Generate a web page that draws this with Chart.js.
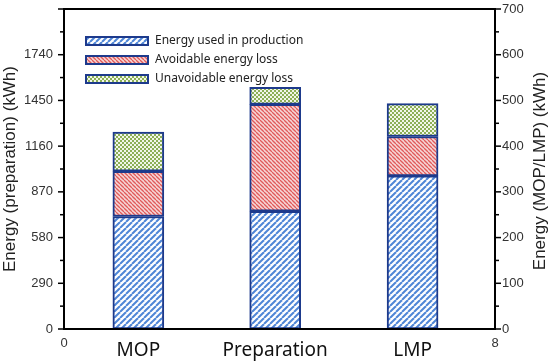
<!DOCTYPE html>
<html><head><meta charset="utf-8">
<script src="https://cdn.jsdelivr.net/npm/chart.js@4/dist/chart.umd.min.js"></script>
<style>html,body{margin:0;padding:0;background:#fff}#wrap{width:550px;height:363px}</style>
</head><body><div id="wrap"><canvas id="c" width="550" height="363"></canvas></div>
<script>
// ---- data ----
const categories = ['MOP', 'Preparation', 'LMP'];
const catX = [1.38, 3.92, 6.47];
const seriesNames = ['Energy used in production', 'Avoidable energy loss', 'Unavoidable energy loss'];
// MOP and LMP on right axis (kWh), Preparation on left axis (kWh)
const usedMOP_LMP = [246, 335];
const avoidMOP_LMP = [99, 86];
const unavoidMOP_LMP = [86, 72];
const usedPrep = 747;
const avoidPrep = 678;
const unavoidPrep = 108;
const leftTicks = [0, 290, 580, 870, 1160, 1450, 1740];
const rightTicks = [0, 100, 200, 300, 400, 500, 600, 700];
const xEndTicks = [0, 8];

function makePattern(kind) {
  const c = document.createElement('canvas');
  const x = c.getContext('2d');
  if (kind === 'blue') {
    c.width = 6; c.height = 6;
    x.fillStyle = '#fff'; x.fillRect(0,0,6,6);
    x.strokeStyle = '#4f86d6'; x.lineWidth = 2;
    for (let k = -6; k <= 12; k += 6) { x.beginPath(); x.moveTo(k, 6); x.lineTo(k + 6, 0); x.stroke(); }
  } else if (kind === 'red') {
    c.width = 4; c.height = 4;
    x.fillStyle = '#f6d6d6'; x.fillRect(0,0,4,4);
    x.strokeStyle = '#e05a5a'; x.lineWidth = 1.3;
    for (let k = -4; k <= 8; k += 4) { x.beginPath(); x.moveTo(k, 0); x.lineTo(k + 4, 4); x.stroke(); }
  } else {
    c.width = 4; c.height = 4;
    x.fillStyle = '#f2f6e8'; x.fillRect(0,0,4,4);
    x.fillStyle = '#8caf56';
    x.fillRect(0,0,2,2); x.fillRect(2,2,2,2);
  }
  return x.createPattern(c, 'repeat');
}
const fills = [makePattern('blue'), makePattern('red'), makePattern('green')];
const borderCol = '#1d3a8c';

const rightVals = [usedMOP_LMP, avoidMOP_LMP, unavoidMOP_LMP];
const leftVals = [usedPrep, avoidPrep, unavoidPrep];
const datasets = [];
for (let i = 0; i < 3; i++) {
  datasets.push({
    label: seriesNames[i],
    data: [{x: catX[0], y: rightVals[i][0]}, {x: catX[2], y: rightVals[i][1]}],
    yAxisID: 'y1', stack: 's', grouped: false,
    backgroundColor: fills[i], borderColor: borderCol, borderWidth: 2, borderSkipped: false,
    barThickness: 51
  });
}
for (let i = 0; i < 3; i++) {
  datasets.push({
    label: seriesNames[i] + ' (prep)',
    data: [{x: catX[1], y: leftVals[i]}],
    yAxisID: 'y', stack: 's', grouped: false,
    backgroundColor: fills[i], borderColor: borderCol, borderWidth: 2, borderSkipped: false,
    barThickness: 51
  });
}

const numFamily = '"Liberation Sans", Arial, sans-serif';
const tickFont = {family: numFamily, size: 13};
const tickColor = '#333';

const frame = {
  id: 'frame',
  afterDraw(chart) {
    const ctx = chart.ctx, a = chart.chartArea;
    ctx.save();
    ctx.strokeStyle = '#000'; ctx.lineWidth = 2;
    ctx.strokeRect(a.left, a.top, a.right - a.left, a.bottom - a.top);
    // tick marks
    const y = chart.scales.y, y1 = chart.scales.y1, xs = chart.scales.x;
    ctx.lineWidth = 1.5;
    for (let v = 0; v <= 2030; v += 145) {
      const p = y.getPixelForValue(v);
      const major = (v % 290 === 0);
      ctx.beginPath(); ctx.moveTo(a.left, p); ctx.lineTo(a.left - (major ? 6 : 4), p); ctx.stroke();
    }
    for (let v = 0; v <= 700; v += 50) {
      const p = y1.getPixelForValue(v);
      const major = (v % 100 === 0);
      ctx.beginPath(); ctx.moveTo(a.right, p); ctx.lineTo(a.right + (major ? 6 : 4), p); ctx.stroke();
    }
    // x end tick labels
    ctx.fillStyle = tickColor;
    ctx.font = '13px ' + numFamily;
    ctx.textAlign = 'center'; ctx.textBaseline = 'middle';
    xEndTicks.forEach(v => ctx.fillText(String(v), xs.getPixelForValue(v), 343));
    // right axis title (reads bottom to top)
    ctx.save();
    ctx.translate(540, (a.top + a.bottom) / 2 + 2);
    ctx.rotate(-Math.PI / 2);
    ctx.fillStyle = '#222';
    ctx.font = '17px ' + numFamily;
    ctx.fillText('Energy (MOP/LMP) (kWh)', 0, 0);
    ctx.restore();
    // legend
    let ly = 37;
    for (let i = 0; i < 3; i++) {
      const ds = chart.data.datasets[i];
      ctx.fillStyle = ds.backgroundColor;
      ctx.fillRect(86, ly, 62, 8);
      ctx.strokeStyle = borderCol; ctx.lineWidth = 2;
      ctx.strokeRect(86, ly, 62, 8);
      ctx.fillStyle = '#222';
      ctx.font = '12px "Noto Sans", "DejaVu Sans", sans-serif';
      ctx.textBaseline = 'middle'; ctx.textAlign = 'left';
      ctx.fillText(ds.label, 155, ly + 4);
      ly += 19;
    }
    ctx.restore();
  }
};

new Chart(document.getElementById('c'), {
  type: 'bar',
  data: { datasets },
  plugins: [frame],
  options: {
    responsive: false, animation: false,
    layout: { padding: { top: 9, left: 0, right: 0, bottom: 0 } },
    plugins: { legend: { display: false }, tooltip: { enabled: false } },
    scales: {
      x: {
        type: 'linear', min: 0, max: 8, offset: false,
        grid: { display: false, drawTicks: false }, border: { display: false },
        afterBuildTicks: s => { s.ticks = catX.map(v => ({value: v})); },
        afterFit: s => { s.height = 34; s.paddingLeft = 0; s.paddingRight = 0; s.paddingTop = 0; s.paddingBottom = 0; },
        ticks: {
          autoSkip: false, maxRotation: 0, padding: 10, color: '#111',
          font: {family: '"Noto Sans", "DejaVu Sans", sans-serif', size: 19},
          callback: v => { const i = catX.indexOf(v); return i >= 0 ? categories[i] : ''; }
        }
      },
      y: {
        position: 'left', min: 0, max: 2030, stacked: true,
        grid: { display: false, drawTicks: false }, border: { display: false },
        afterBuildTicks: s => { s.ticks = leftTicks.map(v => ({value: v})); },
        afterFit: s => { s.width = 64; s.paddingTop = 0; s.paddingBottom = 0; s.paddingLeft = 0; s.paddingRight = 0; },
        ticks: { font: tickFont, color: tickColor, padding: 11, callback: v => String(v) },
        title: { display: true, text: 'Energy (preparation) (kWh)', font: {family: numFamily, size: 17}, color: '#222', padding: {top: 0, bottom: 0} }
      },
      y1: {
        position: 'right', min: 0, max: 700, stacked: true,
        grid: { display: false, drawTicks: false }, border: { display: false },
        afterBuildTicks: s => { s.ticks = rightTicks.map(v => ({value: v})); },
        afterFit: s => { s.width = 55; s.paddingTop = 0; s.paddingBottom = 0; s.paddingLeft = 0; s.paddingRight = 0; },
        ticks: { font: tickFont, color: tickColor, padding: 7, callback: v => String(v) }
      }
    }
  }
});
</script></body></html>
